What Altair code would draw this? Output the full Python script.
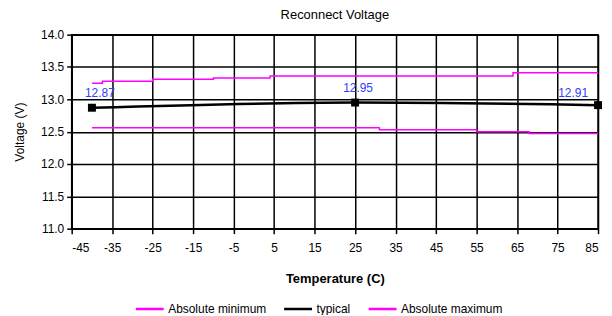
import altair as alt
import pandas as pd

# Typical series (points with labels)
typ_temp = [-40, 25, 85]
typ_volt = [12.87, 12.95, 12.91]

# Absolute minimum (step line): change points
min_temp = [-40, 31, 55, 68, 85]
min_volt = [12.56, 12.53, 12.50, 12.47, 12.47]

# Absolute maximum (step line): change points
max_temp = [-40, -37.4, -25, -10, 4, 64, 85]
max_volt = [13.25, 13.28, 13.31, 13.33, 13.36, 13.41, 13.41]

series_names = ["Absolute minimum", "typical", "Absolute maximum"]
series_colors = ["#ff00ff", "#000000", "#ff00ff"]

x_ticks = list(range(-45, 86, 10))
y_ticks = [11.0, 11.5, 12.0, 12.5, 13.0, 13.5, 14.0]

df_min = pd.DataFrame({"t": min_temp, "v": min_volt, "s": series_names[0]})
df_max = pd.DataFrame({"t": max_temp, "v": max_volt, "s": series_names[2]})
df_typ = pd.DataFrame({"t": typ_temp, "v": typ_volt, "s": series_names[1]})
df_typ["lbl"] = [f"{v:.2f}" for v in typ_volt]

FONT = "Liberation Sans"

xs = alt.X("t:Q", scale=alt.Scale(domain=[-45, 85], nice=False, zero=False),
           axis=alt.Axis(values=x_ticks, title="Temperature (C)", labelAngle=0,
                         labelExpr="'' + datum.value",
                         titleFontWeight="bold", titleFontSize=13, titlePadding=19,
                         labelFontSize=12, labelPadding=9))
ys = alt.Y("v:Q", scale=alt.Scale(domain=[11, 14], nice=False, zero=False),
           axis=alt.Axis(values=y_ticks, format=".1f", title="Voltage (V)",
                         titleFontWeight="normal", titleFontSize=12, labelFontSize=12,
                         labelPadding=3, titlePadding=14))
color = alt.Color("s:N", scale=alt.Scale(domain=series_names, range=series_colors),
                  legend=alt.Legend(title=None, orient="none", direction="horizontal",
                                    legendX=63, legendY=260,
                                    symbolType="stroke", symbolStrokeWidth=2.5,
                                    labelFontSize=12, symbolSize=784, columnPadding=12,
                                    labelOffset=3))

min_line = alt.Chart(df_min).mark_line(interpolate="step-after", strokeWidth=1.5).encode(x=xs, y=ys, color=color)
max_line = alt.Chart(df_max).mark_line(interpolate="step-after", strokeWidth=1.5).encode(x=xs, y=ys, color=color)
typ_line = alt.Chart(df_typ).mark_line(interpolate="monotone", strokeWidth=2.5).encode(x=xs, y=ys, color=color)
typ_pts = alt.Chart(df_typ).mark_point(shape="square", filled=True, size=64, color="black", opacity=1).encode(x=xs, y=ys)

lbl_color = "#3040ff"
lbl_a = alt.Chart(df_typ).transform_filter(alt.datum.t < 0).mark_text(
    dy=-15, dx=8, fontSize=12, color=lbl_color, align="center").encode(x=xs, y=ys, text="lbl:N")
lbl_b = alt.Chart(df_typ).transform_filter((alt.datum.t > 0) & (alt.datum.t < 80)).mark_text(
    dy=-15, dx=3, fontSize=12, color=lbl_color, align="center").encode(x=xs, y=ys, text="lbl:N")
lbl_c = alt.Chart(df_typ).transform_filter(alt.datum.t >= 80).mark_text(
    dy=-12, dx=-25, fontSize=12, color=lbl_color, align="center").encode(x=xs, y=ys, text="lbl:N")

chart = alt.layer(min_line, max_line, typ_line, typ_pts, lbl_a, lbl_b, lbl_c).properties(
    width=529, height=195,
    title=alt.TitleParams("Reconnect Voltage", fontSize=13, fontWeight="normal", offset=7),
    autosize=alt.AutoSizeParams(type="none"),
    padding={"left": 64, "top": 26, "right": 6, "bottom": 86},
).configure_axis(
    gridColor="black", gridWidth=1.5, gridOpacity=1, domainColor="black", domainWidth=1.5,
    tickColor="black", tickSize=5, tickWidth=1.5, labelColor="black", titleColor="black",
    labelFont=FONT, titleFont=FONT,
).configure_view(stroke="black", strokeWidth=1.5).configure_legend(
    labelFont=FONT, labelColor="black"
).configure_title(font=FONT, color="black").configure_text(font=FONT)

chart.save("out.html", embed_options={"renderer": "svg", "actions": False})
